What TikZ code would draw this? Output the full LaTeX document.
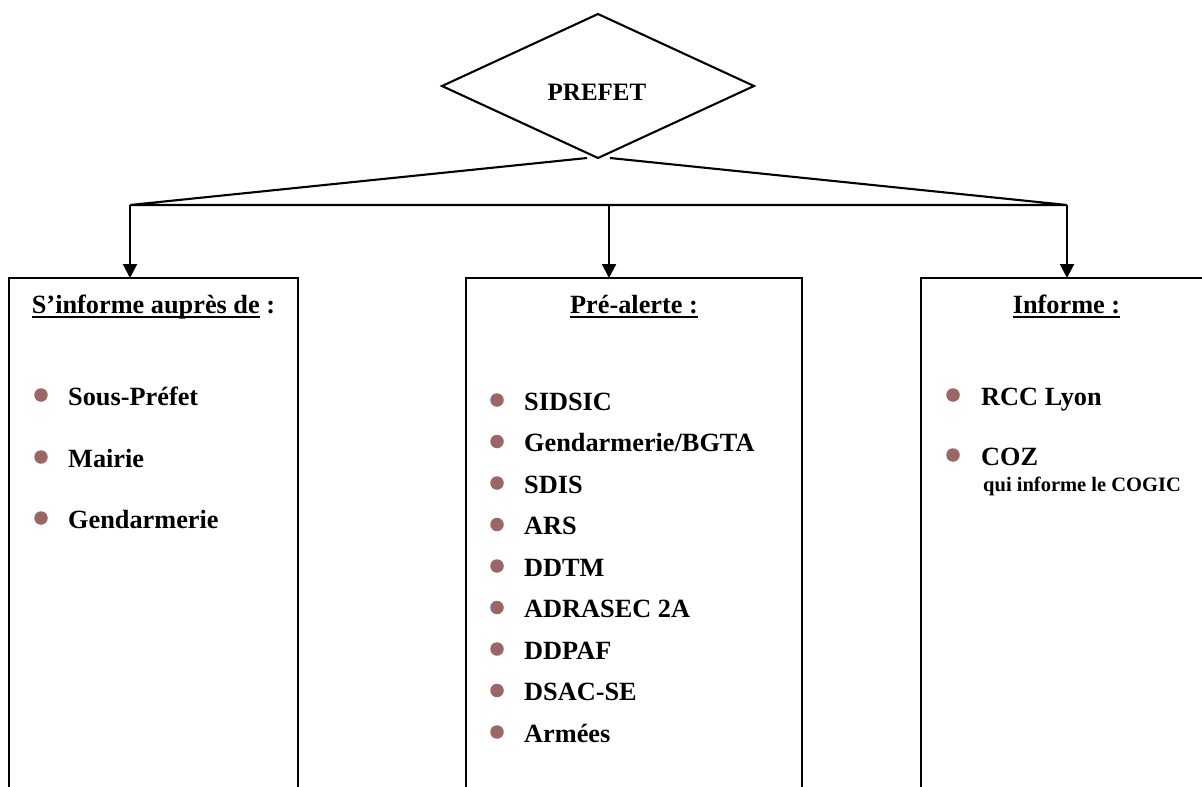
\documentclass[tikz,border=0pt]{standalone}
\usepackage{fontspec}
\setmainfont{Liberation Serif}
\usetikzlibrary{shapes.geometric,arrows.meta}
\definecolor{bulletcol}{RGB}{155,102,102}
\newsavebox\ulbox
\newcommand\myul[1]{\sbox\ulbox{#1}\rlap{\rule[-5pt]{\wd\ulbox}{2pt}}\usebox\ulbox}
\tikzset{
 txt/.style={font=\fontsize{26.3}{30}\selectfont\bfseries, inner sep=0, anchor=base west},
 ttl/.style={font=\fontsize{26.3}{30}\selectfont\bfseries, inner sep=0, anchor=base},
 subtxt/.style={font=\fontsize{20.5}{24}\selectfont\bfseries, inner sep=0, anchor=base west},
 bul/.style={circle, fill=bulletcol, minimum size=13.5pt, inner sep=0},
 box/.style={draw, line width=2.2pt, anchor=north west, inner sep=0, outer sep=0},
 conn/.style={line width=2.1pt},
 arr/.style={line width=2.1pt, -{Triangle[length=14pt,width=14pt]}},
}
\begin{document}
\begin{tikzpicture}[x=1pt,y=-1pt]
\useasboundingbox (0,0) rectangle (1202,787);
\clip (0,0) rectangle (1202,787);
% diamond
\node[diamond, draw, line width=2.1pt, minimum width=312pt, minimum height=144pt, inner sep=0, outer sep=0] (P) at (598,86) {};
\node[font=\fontsize{25}{30}\selectfont\bfseries, inner sep=0, anchor=base] (Ptxt) at (597,100) {PREFET};
% boxes
\node[box, minimum width=289pt, minimum height=540pt] (b1) at (9,278) {};
\node[box, minimum width=336pt, minimum height=540pt] (b2) at (466,278) {};
\node[box, minimum width=292pt, minimum height=540pt] (b3) at (921,278) {};
% bus
\coordinate (dl) at ([xshift=-11pt]P.south);
\coordinate (dr) at ([xshift=12pt]P.south);
\coordinate (L) at (130,205);
\coordinate (M) at (609,205);
\coordinate (R) at (1067,205);
\draw[conn, line join=miter] (dl) -- (L) -- (R) -- (dr);
\draw[arr] (L) -- (L |- b1.north);
\draw[arr] (M) -- (M |- b2.north);
\draw[arr] (R) -- (R |- b3.north);
% titles
\node[ttl] (t1) at (153.5,313) {\myul{S’informe auprès de} :};
\node[ttl] (t2) at (634,313) {\myul{Pré-alerte :}};
\node[ttl] (t3) at (1066.5,313) {\myul{Informe :}};
% box 1 items
\node[txt] (a1) at (68,405) {Sous-Préfet};
\node[txt] (a2) at (68,467) {Mairie};
\node[txt] (a3) at (68,528) {Gendarmerie};
\node[bul] (ad1) at (41,395) {};
\node[bul] (ad2) at (41,457) {};
\node[bul] (ad3) at (41,518) {};
% box 2 items
\foreach \t [count=\i] in {SIDSIC,Gendarmerie/BGTA,SDIS,ARS,DDTM,ADRASEC 2A,DDPAF,DSAC-SE,Armées}{
  \pgfmathsetmacro\yy{410+41.5*(\i-1)}
  \node[txt] (c\i) at (524,\yy) {\t};
  \node[bul] (cd\i) at (497,\yy-10) {};
}
% box 3 items
\node[txt] (e1) at (981,405) {RCC Lyon};
\node[bul] (ed1) at (953,395) {};
\node[txt] (e2) at (981,465) {COZ};
\node[bul] (ed2) at (953,455) {};
\node[subtxt] (e3) at (983,491) {qui informe le COGIC};
\end{tikzpicture}
\end{document}
